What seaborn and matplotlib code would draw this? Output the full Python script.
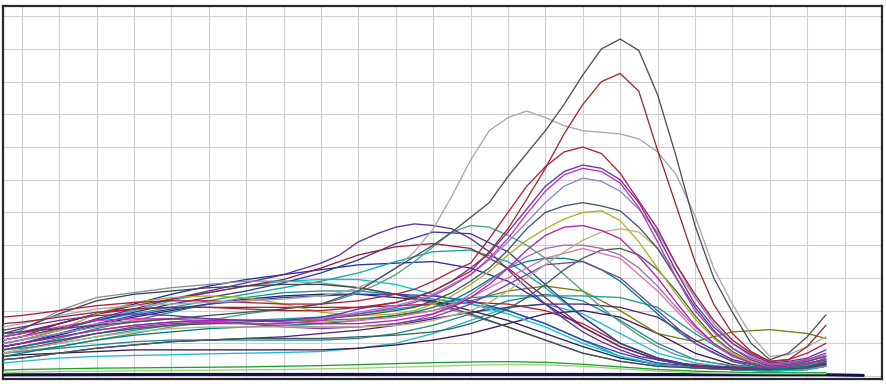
import matplotlib
matplotlib.use('Agg')
import matplotlib.pyplot as plt
import seaborn as sns
import pandas as pd

# sample positions along x (grid units): coarse for gentle curves,
# half steps on the right for the peaked ones
xs = [-0.5, 0, 1, 2, 3, 4, 5, 6, 7, 8, 9, 10, 11, 12, 13, 14, 15, 16, 17, 18, 19, 20, 21, 21.5]
xs_fine = [-0.5, 0, 1, 2, 3, 4, 5, 6, 7, 8, 8.5, 9, 9.5, 10, 10.5, 11, 11.5, 12, 12.5, 13, 13.5,
           14, 14.5, 15, 15.5, 16, 16.5, 17, 17.5, 18, 18.5, 19, 19.5, 20, 20.5, 21, 21.5]

# gentle curves (coarse)
green_low = [0.18, 0.2, 0.22, 0.24, 0.25, 0.26, 0.27, 0.28, 0.3, 0.32, 0.35, 0.38, 0.41, 0.43, 0.44, 0.42, 0.36, 0.28, 0.2, 0.15, 0.12, 0.1, 0.1, 0.1]
green_light = [0.1, 0.12, 0.14, 0.15, 0.16, 0.17, 0.18, 0.19, 0.2, 0.22, 0.24, 0.27, 0.3, 0.33, 0.35, 0.34, 0.3, 0.22, 0.15, 0.1, 0.08, 0.07, 0.07, 0.07]
cyan_low = [0.4, 0.45, 0.55, 0.6, 0.63, 0.65, 0.68, 0.7, 0.72, 0.75, 0.85, 1.0, 1.3, 1.7, 2.1, 2.2, 1.9, 1.3, 0.7, 0.4, 0.25, 0.2, 0.25, 0.35]
teal_low = [0.7, 0.75, 0.85, 0.95, 1.05, 1.1, 1.1, 1.1, 1.1, 1.1, 1.15, 1.3, 1.55, 1.9, 2.3, 2.5, 2.3, 1.7, 1.0, 0.5, 0.3, 0.2, 0.3, 0.5]
plum_low = [0.6, 0.65, 0.7, 0.75, 0.8, 0.8, 0.8, 0.8, 0.8, 0.8, 0.85, 0.95, 1.1, 1.3, 1.6, 1.9, 2.0, 1.8, 1.3, 0.7, 0.35, 0.2, 0.3, 0.45]
olive_tail = [0.9, 1.0, 1.2, 1.4, 1.55, 1.65, 1.7, 1.7, 1.7, 1.7, 1.75, 1.85, 2.0, 2.3, 2.6, 2.75, 2.6, 2.0, 1.3, 1.05, 1.35, 1.42, 1.3, 1.15]
purple_flat = [0.5, 0.55, 0.7, 0.85, 0.95, 1.05, 1.1, 1.15, 1.2, 1.3, 1.4, 1.55, 1.75, 1.95, 2.1, 2.2, 2.2, 2.1, 1.8, 1.1, 0.5, 0.25, 0.3, 0.45]
teal_shelf = [0.8, 0.85, 1.0, 1.2, 1.4, 1.55, 1.65, 1.7, 1.75, 1.8, 1.9, 2.05, 2.2, 2.4, 2.45, 2.45, 2.45, 2.4, 2.1, 1.3, 0.6, 0.3, 0.35, 0.5]
red_flat = [1.1, 1.2, 1.6, 1.9, 2.05, 2.1, 2.1, 2.1, 2.1, 2.1, 2.1, 2.15, 2.2, 2.25, 2.2, 2.0, 1.6, 1.0, 0.55, 0.3, 0.25, 0.2, 0.25, 0.35]
navy_mid = [0.9, 1.0, 1.25, 1.55, 1.8, 2.0, 2.2, 2.35, 2.45, 2.5, 2.5, 2.4, 2.3, 2.0, 1.7, 1.3, 0.9, 0.55, 0.35, 0.25, 0.2, 0.15, 0.2, 0.3]
teal_hump = [0.8, 0.9, 1.15, 1.45, 1.7, 1.95, 2.2, 2.4, 2.55, 2.6, 2.6, 2.5, 2.35, 2.2, 2.0, 1.6, 1.1, 0.6, 0.35, 0.25, 0.2, 0.15, 0.2, 0.3]
cyan_hump = [1.0, 1.1, 1.4, 1.7, 2.0, 2.3, 2.55, 2.75, 2.9, 2.95, 2.95, 2.8, 2.5, 2.2, 1.9, 1.5, 1.0, 0.6, 0.35, 0.25, 0.2, 0.15, 0.2, 0.3]
blue_wide = [0.9, 1.0, 1.3, 1.6, 1.85, 2.05, 2.2, 2.3, 2.4, 2.45, 2.5, 2.5, 2.45, 2.3, 2.0, 1.6, 1.1, 0.7, 0.4, 0.3, 0.25, 0.2, 0.3, 0.45]
blue_hump = [1.2, 1.3, 1.6, 1.9, 2.2, 2.5, 2.75, 2.95, 3.1, 3.25, 3.4, 3.45, 3.5, 3.3, 2.9, 2.2, 1.5, 0.9, 0.5, 0.3, 0.2, 0.2, 0.25, 0.4]
teal_peak = [1.1, 1.2, 1.45, 1.7, 1.9, 2.1, 2.3, 2.5, 2.7, 2.9, 3.15, 3.5, 3.8, 3.85, 3.5, 2.7, 1.8, 1.0, 0.55, 0.3, 0.25, 0.2, 0.25, 0.35]
navy_peak = [1.1, 1.2, 1.45, 1.7, 1.95, 2.2, 2.4, 2.6, 2.85, 3.15, 3.55, 4.05, 4.4, 4.35, 3.8, 2.8, 1.8, 1.0, 0.55, 0.3, 0.25, 0.2, 0.25, 0.4]
wine_peak = [1.3, 1.35, 1.6, 1.9, 2.15, 2.35, 2.55, 2.75, 2.95, 3.3, 3.7, 3.95, 4.05, 3.9, 3.3, 2.4, 1.5, 0.9, 0.5, 0.3, 0.25, 0.2, 0.25, 0.35]
gray_top = [1.2, 1.4, 2.0, 2.4, 2.55, 2.7, 2.8, 2.9, 2.9, 2.85, 2.7, 2.5, 2.2, 1.85, 1.5, 1.1, 0.7, 0.45, 0.3, 0.25, 0.2, 0.2, 0.25, 0.3]
slate_top = [1.3, 1.45, 1.9, 2.3, 2.5, 2.6, 2.7, 2.75, 2.8, 2.8, 2.7, 2.5, 2.25, 1.9, 1.5, 1.1, 0.7, 0.45, 0.3, 0.25, 0.2, 0.2, 0.25, 0.35]
pink = [1.1, 1.2, 1.4, 1.6, 1.7, 1.75, 1.75, 1.7, 1.65, 1.65, 1.7, 1.8, 2.0, 2.4, 3.0, 3.6, 3.9, 3.6, 2.6, 1.4, 0.6, 0.3, 0.35, 0.5]
purple_low = [0.7, 0.8, 1.05, 1.3, 1.5, 1.6, 1.65, 1.6, 1.5, 1.45, 1.5, 1.6, 1.8, 2.2, 2.8, 3.4, 3.5, 3.0, 2.0, 1.0, 0.45, 0.25, 0.35, 0.55]

# peaked curves (fine)
violet_peak = [1.0, 1.1, 1.4, 1.75, 2.05, 2.35, 2.6, 2.85, 3.1, 3.45, 3.7, 4.1, 4.35, 4.55, 4.65, 4.6, 4.5, 4.2, 3.8, 3.25, 2.7,
               2.2, 1.75, 1.35, 1.05, 0.8, 0.6, 0.5, 0.4, 0.35, 0.3, 0.28, 0.25, 0.22, 0.22, 0.28, 0.38]
sea_green = [0.7, 0.75, 0.9, 1.1, 1.3, 1.5, 1.7, 1.9, 2.05, 2.2, 2.35, 2.55, 2.8, 3.1, 3.5, 3.95, 4.4, 4.6, 4.55, 4.3, 4.0,
             3.6, 3.1, 2.6, 2.1, 1.65, 1.25, 0.9, 0.65, 0.5, 0.4, 0.33, 0.28, 0.25, 0.27, 0.32, 0.45]
teal_mid = [0.6, 0.7, 0.9, 1.1, 1.25, 1.35, 1.45, 1.5, 1.55, 1.6, 1.65, 1.7, 1.78, 1.85, 1.95, 2.1, 2.3, 2.6, 2.95, 3.3, 3.5,
            3.6, 3.6, 3.5, 3.25, 2.9, 2.4, 1.9, 1.4, 1.0, 0.7, 0.45, 0.3, 0.25, 0.25, 0.3, 0.45]
slate_green = [0.5, 0.55, 0.7, 0.85, 0.95, 1.05, 1.1, 1.15, 1.15, 1.15, 1.17, 1.2, 1.22, 1.25, 1.3, 1.35, 1.45, 1.6, 1.8, 2.05, 2.4,
               2.8, 3.25, 3.6, 3.85, 3.9, 3.7, 3.25, 2.6, 1.85, 1.2, 0.75, 0.45, 0.3, 0.35, 0.45, 0.6]
mauve = [0.8, 0.9, 1.1, 1.3, 1.45, 1.55, 1.6, 1.6, 1.55, 1.5, 1.5, 1.5, 1.55, 1.6, 1.7, 1.9, 2.15, 2.5, 2.9, 3.3, 3.65,
         3.9, 4.0, 4.0, 3.9, 3.7, 3.3, 2.75, 2.1, 1.5, 1.0, 0.6, 0.4, 0.3, 0.3, 0.4, 0.5]
tan = [0.7, 0.8, 1.0, 1.2, 1.35, 1.45, 1.5, 1.5, 1.5, 1.5, 1.5, 1.5, 1.52, 1.55, 1.6, 1.7, 1.85, 2.0, 2.25, 2.6, 3.0,
       3.4, 3.8, 4.15, 4.4, 4.5, 4.4, 3.9, 3.2, 2.4, 1.7, 1.1, 0.7, 0.4, 0.4, 0.5, 0.6]
magenta_low = [0.9, 1.0, 1.2, 1.4, 1.55, 1.65, 1.7, 1.7, 1.65, 1.6, 1.6, 1.6, 1.65, 1.7, 1.8, 1.9, 2.1, 2.4, 2.8, 3.3, 3.85,
               4.3, 4.55, 4.6, 4.45, 4.2, 3.65, 3.0, 2.25, 1.55, 1.0, 0.65, 0.4, 0.3, 0.3, 0.4, 0.5]
yellow = [1.0, 1.1, 1.4, 1.9, 2.25, 2.4, 2.45, 2.4, 2.2, 1.95, 1.9, 1.85, 1.87, 1.9, 2.0, 2.2, 2.45, 2.8, 3.2, 3.7, 4.15,
          4.5, 4.8, 5.0, 5.05, 4.75, 4.1, 3.3, 2.5, 1.75, 1.15, 0.7, 0.45, 0.3, 0.35, 0.45, 0.6]
slate = [0.8, 0.9, 1.1, 1.3, 1.45, 1.55, 1.6, 1.65, 1.7, 1.75, 1.8, 1.85, 1.92, 2.0, 2.1, 2.3, 2.55, 2.9, 3.3, 3.85, 4.5,
         5.0, 5.2, 5.3, 5.2, 5.05, 4.55, 3.9, 3.0, 2.1, 1.4, 0.85, 0.5, 0.3, 0.35, 0.45, 0.6]
lavender = [1.0, 1.1, 1.3, 1.5, 1.65, 1.75, 1.75, 1.7, 1.7, 1.75, 1.85, 1.95, 2.05, 2.15, 2.3, 2.5, 2.8, 3.1, 3.55, 4.1, 4.7,
            5.3, 5.8, 6.05, 5.95, 5.65, 5.1, 4.4, 3.4, 2.4, 1.6, 1.0, 0.6, 0.35, 0.4, 0.5, 0.65]
magenta = [1.2, 1.3, 1.5, 1.7, 1.75, 1.75, 1.65, 1.6, 1.6, 1.7, 1.8, 1.9, 2.0, 2.1, 2.25, 2.45, 2.75, 3.1, 3.6, 4.2, 4.95,
           5.65, 6.15, 6.35, 6.25, 5.9, 5.15, 4.1, 3.0, 2.0, 1.35, 0.85, 0.55, 0.35, 0.4, 0.5, 0.7]
purple = [1.4, 1.5, 1.7, 1.85, 1.9, 1.85, 1.75, 1.7, 1.7, 1.8, 1.9, 2.05, 2.15, 2.25, 2.4, 2.6, 2.9, 3.3, 3.75, 4.4, 5.1,
          5.8, 6.25, 6.45, 6.35, 6.0, 5.3, 4.3, 3.2, 2.2, 1.5, 1.0, 0.65, 0.4, 0.45, 0.55, 0.8]
crimson = [1.8, 1.85, 2.0, 2.15, 2.25, 2.3, 2.3, 2.25, 2.2, 2.2, 2.25, 2.3, 2.4, 2.5, 2.65, 2.9, 3.2, 3.45, 4.2, 5.0, 5.8,
           6.4, 6.85, 7.0, 6.8, 6.2, 5.35, 4.5, 3.4, 2.5, 1.7, 1.1, 0.7, 0.45, 0.5, 0.7, 1.0]
light_gray = [1.5, 1.6, 1.85, 2.05, 2.15, 2.2, 2.25, 2.3, 2.35, 2.45, 2.55, 2.7, 2.95, 3.3, 3.8, 4.5, 5.5, 6.6, 7.5, 7.9, 8.1,
              7.9, 7.65, 7.5, 7.45, 7.4, 7.25, 6.85, 6.15, 4.9, 3.3, 2.2, 1.25, 0.6, 0.65, 0.9, 1.2]
dark_red = [1.6, 1.65, 1.8, 1.95, 2.05, 2.1, 2.1, 2.05, 2.0, 2.0, 2.05, 2.1, 2.17, 2.25, 2.4, 2.6, 2.9, 3.2, 3.8, 4.5, 5.4,
            6.35, 7.4, 8.3, 9.0, 9.25, 8.7, 6.9, 5.2, 3.5, 2.2, 1.3, 0.75, 0.45, 0.5, 0.9, 1.55]
dark_gray = [1.3, 1.35, 1.45, 1.55, 1.65, 1.75, 1.85, 1.95, 2.05, 2.2, 2.4, 2.6, 2.95, 3.3, 3.65, 4.0, 4.4, 4.85, 5.3, 6.1, 6.8,
             7.5, 8.3, 9.2, 10.0, 10.3, 9.95, 8.6, 6.7, 4.6, 3.0, 1.95, 1.0, 0.5, 0.7, 1.2, 1.87]

# the dark base line runs a little further right
base_x = [-0.5, 0, 4, 8, 12, 16, 20, 21.5, 22.5]
base_y = [0.04, 0.04, 0.05, 0.05, 0.05, 0.05, 0.04, 0.04, 0.02]

# draw order: low and early curves first, tall peaks last
series = [
    ('green_low', xs, green_low, '#20a030'),
    ('green_light', xs, green_light, '#9ad47a'),
    ('cyan_low', xs, cyan_low, '#20b8d8'),
    ('teal_low', xs, teal_low, '#208898'),
    ('plum_low', xs, plum_low, '#401850'),
    ('olive_tail', xs, olive_tail, '#7a7a10'),
    ('purple_flat', xs, purple_flat, '#502878'),
    ('teal_shelf', xs, teal_shelf, '#10a0a0'),
    ('red_flat', xs, red_flat, '#b02028'),
    ('navy_mid', xs, navy_mid, '#202858'),
    ('teal_hump', xs, teal_hump, '#209090'),
    ('cyan_hump', xs, cyan_hump, '#00c8d0'),
    ('blue_wide', xs, blue_wide, '#3040c0'),
    ('blue_hump', xs, blue_hump, '#2030b0'),
    ('teal_peak', xs, teal_peak, '#10a8a8'),
    ('navy_peak', xs, navy_peak, '#383890'),
    ('sea_green', xs_fine, sea_green, '#50a080'),
    ('wine_peak', xs, wine_peak, '#902040'),
    ('violet_peak', xs_fine, violet_peak, '#603090'),
    ('gray_top', xs, gray_top, '#8a9098'),
    ('slate_top', xs, slate_top, '#404850'),
    ('teal_mid', xs_fine, teal_mid, '#008080'),
    ('slate_green', xs_fine, slate_green, '#406058'),
    ('pink', xs, pink, '#e070a8'),
    ('mauve', xs_fine, mauve, '#a070b0'),
    ('purple_low', xs, purple_low, '#8040a0'),
    ('tan', xs_fine, tan, '#c0b080'),
    ('magenta_low', xs_fine, magenta_low, '#b020b0'),
    ('yellow', xs_fine, yellow, '#b0b020'),
    ('slate', xs_fine, slate, '#405868'),
    ('lavender', xs_fine, lavender, '#8888cc'),
    ('magenta', xs_fine, magenta, '#c030c0'),
    ('purple', xs_fine, purple, '#7030a0'),
    ('crimson', xs_fine, crimson, '#b02040'),
    ('light_gray', xs_fine, light_gray, '#a8a8a8'),
    ('dark_red', xs_fine, dark_red, '#a02830'),
    ('dark_gray', xs_fine, dark_gray, '#4a5058'),
]

rows = []
for name, xvals, vals, _ in series:
    for x, v in zip(xvals, vals):
        rows.append({'x': x, 'v': v, 'curve': name})
df = pd.DataFrame(rows)
palette = {name: c for name, _, _, c in series}
order = [name for name, _, _, _ in series]

sns.set_style('white')
fig = plt.figure(figsize=(8.86, 3.84), dpi=100)
ax = fig.add_axes([3 / 886, 5 / 384, 879 / 886, 373 / 384])

sns.lineplot(data=pd.DataFrame({'x': base_x, 'v': base_y}), x='x', y='v',
             color='#10104a', linewidth=2.2, ax=ax, zorder=3)
sns.lineplot(data=df, x='x', y='v', hue='curve', palette=palette,
             hue_order=order, estimator=None, sort=False,
             linewidth=0.95, legend=False, ax=ax, zorder=4)

ax.set_xlim(-0.5, 23)
ax.set_ylim(-0.09, 11.31)
ax.set_xticks(range(0, 23))
ax.set_yticks(range(0, 12))
ax.set_xticklabels([])
ax.set_yticklabels([])
ax.set_xlabel('')
ax.set_ylabel('')
ax.grid(True, color='#cfcfcf', linewidth=0.8, zorder=0)
ax.set_axisbelow(True)
ax.tick_params(direction='out', length=3, width=0.8, color='#303030')
for s in ax.spines.values():
    s.set_color('#282828')
    s.set_linewidth(1.6)

fig.savefig('out.png', dpi=100)
